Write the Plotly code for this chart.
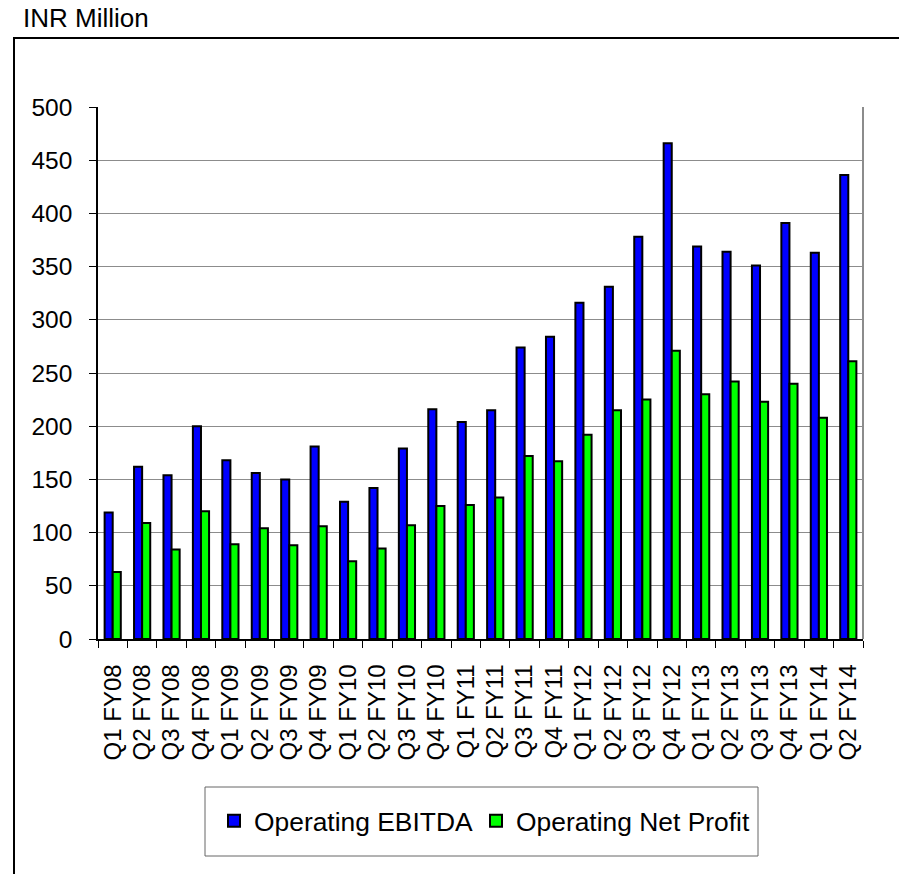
import plotly.graph_objects as go

# Quarterly figures, INR Million
quarters = [
    "Q1 FY08", "Q2 FY08", "Q3 FY08", "Q4 FY08",
    "Q1 FY09", "Q2 FY09", "Q3 FY09", "Q4 FY09",
    "Q1 FY10", "Q2 FY10", "Q3 FY10", "Q4 FY10",
    "Q1 FY11", "Q2 FY11", "Q3 FY11", "Q4 FY11",
    "Q1 FY12", "Q2 FY12", "Q3 FY12", "Q4 FY12",
    "Q1 FY13", "Q2 FY13", "Q3 FY13", "Q4 FY13",
    "Q1 FY14", "Q2 FY14",
]
operating_ebitda = [
    119, 162, 154, 200,
    168, 156, 150, 181,
    129, 142, 179, 216,
    204, 215, 274, 284,
    316, 331, 378, 466,
    369, 364, 351, 391,
    363, 436,
]
operating_net_profit = [
    63, 109, 84, 120,
    89, 104, 88, 106,
    73, 85, 107, 125,
    126, 133, 172, 167,
    192, 215, 225, 271,
    230, 242, 223, 240,
    208, 261,
]

FONT = "Arial, Liberation Sans, sans-serif"

W, H = 899, 874
L, R, T, B = 98, 36, 107, 235
PW, PH = W - L - R, H - T - B


def px_x(px):
    return (px - L) / PW


def px_y(py):
    return (H - B - py) / PH


fig = go.Figure()
fig.add_trace(go.Bar(
    x=quarters, y=operating_ebitda, name="Operating EBITDA", legend="legend",
    marker=dict(color="#0000FF", line=dict(color="#000000", width=2)),
))
fig.add_trace(go.Bar(
    x=quarters, y=operating_net_profit, name="Operating Net Profit", legend="legend2",
    marker=dict(color="#00FF00", line=dict(color="#000000", width=2)),
))

legend_style = dict(
    orientation="h", xanchor="left", yanchor="middle", y=px_y(821),
    font=dict(family=FONT, size=26.4, color="black"),
    bgcolor="rgba(0,0,0,0)", borderwidth=0, itemsizing="constant",
)

fig.update_layout(
    width=W, height=H,
    margin=dict(l=L, r=R, t=T, b=B, pad=0),
    paper_bgcolor="white", plot_bgcolor="white",
    barmode="group", bargap=0.45, bargroupgap=0,
    font=dict(family=FONT, size=24, color="black"),
    showlegend=True,
    legend=dict(legend_style, x=px_x(214)),
    legend2=dict(legend_style, x=px_x(476)),
)

fig.update_xaxes(
    type="category", showline=True, linecolor="black", linewidth=1.5,
    ticks="outside", tickson="boundaries", ticklen=7, tickcolor="black", tickwidth=1,
    tickangle=-90, ticklabelstandoff=14,
    tickfont=dict(family=FONT, size=24, color="black"),
    showgrid=False, zeroline=False,
)
fig.update_yaxes(
    range=[0, 500], dtick=50, showline=True, linecolor="black", linewidth=1.5,
    ticks="outside", ticklen=7, tickcolor="black", tickwidth=1,
    ticklabelstandoff=12,
    tickfont=dict(family=FONT, size=24.5, color="black"),
    showgrid=True, gridcolor="#8c8c8c", gridwidth=1.3, zeroline=False,
)

# Right edge of the plot area
fig.add_shape(type="line", xref="paper", yref="paper", x0=1, x1=1, y0=0, y1=1,
              line=dict(color="#8c8c8c", width=2))

# Legend frame
fig.add_shape(type="rect", xref="paper", yref="paper",
              x0=px_x(205), x1=px_x(758), y0=px_y(856), y1=px_y(787),
              line=dict(color="#666666", width=1), fillcolor="rgba(0,0,0,0)")

# Outer chart frame (open toward the right and bottom)
fig.add_shape(type="path", xref="paper", yref="paper",
              path=f"M {px_x(14)},{px_y(900)} L {px_x(14)},{px_y(38)} L {px_x(920)},{px_y(38)}",
              line=dict(color="black", width=2))

fig.add_annotation(text="INR Million", xref="paper", yref="paper",
                   x=px_x(21), y=px_y(18), xanchor="left", yanchor="middle",
                   showarrow=False, font=dict(family=FONT, size=26, color="black"))

fig.write_html("out.html")
